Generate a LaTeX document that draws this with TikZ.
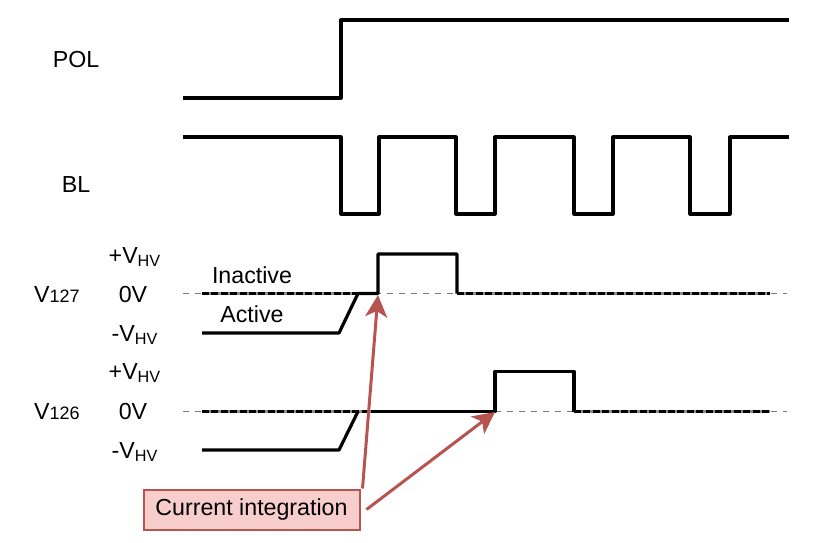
\documentclass[tikz,border=0pt]{standalone}
\usepackage{fontspec}
\setmainfont{Liberation Sans}
\usetikzlibrary{arrows.meta,positioning}
\definecolor{CallFill}{RGB}{248,206,204}
\definecolor{CallEdge}{RGB}{184,84,80}
\definecolor{RefGray}{RGB}{120,120,120}

\begin{document}
\begin{tikzpicture}[x=0.5pt,y=-0.5pt,
    wave/.style={line width=1.6pt, line join=round},
    refline/.style={RefGray, line width=0.5pt, dash pattern=on 3pt off 3pt},
    idle/.style={line width=1.6pt, dash pattern=on 3.5pt off 1.2pt},
    lbl/.style={font=\fontsize{11.6}{14}\selectfont, inner sep=0pt},
    callout/.style={draw=CallEdge, fill=CallFill, line width=1pt, font=\fontsize{11.6}{14}\selectfont, minimum width=108pt, minimum height=20pt, inner sep=0pt},
    pointer/.style={CallEdge, line width=1.5pt, -{Stealth[length=11pt, width=11pt, inset=3pt]}}]
  \useasboundingbox (0,0) rectangle (837,542);
  % signal names
  \node[lbl] (pol) at (76,60) {POL};
  \node[lbl] (bl) at (76,185) {BL};
  \node[lbl] (v127) at (57,295) {V{\fontsize{9}{10}\selectfont 127}};
  \node[lbl] (v126) at (57,412) {V{\fontsize{9}{10}\selectfont 126}};
  % levels
  \node[lbl] (hiA) at (135,257) {+V\textsubscript{HV}};
  \node[lbl] (zeroA) at (133,295) {0V};
  \node[lbl] (loA) at (135,335) {-V\textsubscript{HV}};
  \node[lbl] (hiB) at (135,373) {+V\textsubscript{HV}};
  \node[lbl] (zeroB) at (133,412) {0V};
  \node[lbl] (loB) at (135,452) {-V\textsubscript{HV}};
  \node[lbl] (inact) at (252,275) {Inactive};
  \node[lbl] (act) at (252,314) {Active};
  % POL and BL
  \draw[wave] (183,98)--(341,98)--(341,20)--(789,20);
  \draw[wave] (183,137)--(341,137)--(341,214)--(379,214)--(379,137)--(456,137)--(456,214)--(495,214)--(495,137)
    --(574,137)--(574,214)--(613,214)--(613,137)--(690,137)--(690,214)--(730,214)--(730,137)--(789,137);
  % V127
  \draw[refline] (183,293.5)--(787,293.5);
  \draw[idle, black!45, solid] (202,293.5)--(378,293.5);
  \draw[idle] (202,293.5)--(378,293.5);
  \draw[wave] (202,333)--(339,333)--(358,293.5)--(378,293.5)--(378,254)--(457,254)--(457,293.5);
  \draw[idle, black!45, solid] (457,293.5)--(770,293.5);
  \draw[idle] (457,293.5)--(770,293.5);
  % V126
  \draw[refline] (183,411.5)--(787,411.5);
  \draw[idle, black!45, solid] (202,411.5)--(378,411.5);
  \draw[idle] (202,411.5)--(378,411.5);
  \draw[wave] (202,450)--(339,450)--(358,411.5);
  \draw[wave] (378,411.5)--(495,411.5)--(495,371.5)--(574,371.5)--(574,411.5);
  \draw[idle, black!45, solid] (574,411.5)--(770,411.5);
  \draw[idle] (574,411.5)--(770,411.5);
  % callout
  \node[callout] (integ) at (251.5,509.5) {Current integration};
  \coordinate (tipA) at (378,295);
  \coordinate (tipB) at (495,412);
  \draw[pointer] ([xshift=1pt]integ.north east)--(tipA);
  \draw[pointer] ([xshift=3pt]integ.east)--(tipB);
\end{tikzpicture}
\end{document}
